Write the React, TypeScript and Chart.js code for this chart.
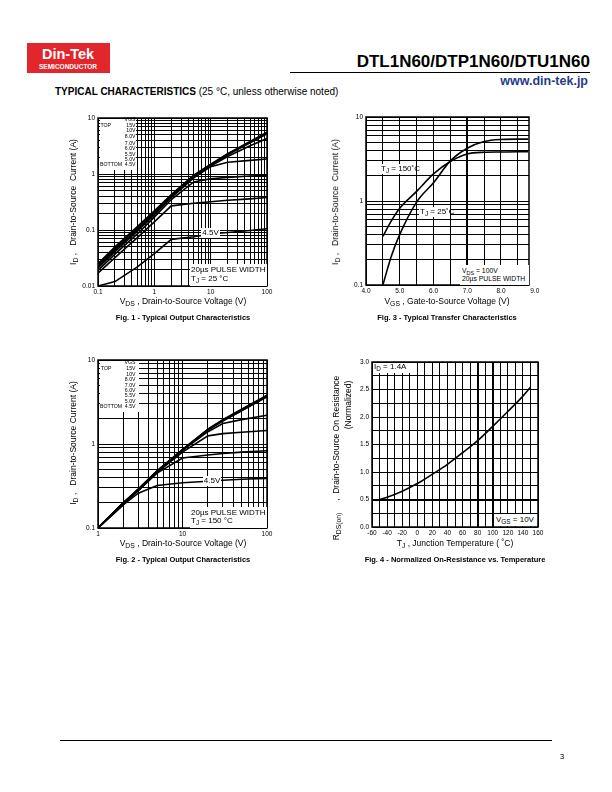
import React, { useEffect, useRef } from 'react';
import { Chart, registerables } from 'chart.js';
Chart.register(...registerables);

const FONT = '"Liberation Sans", Arial, Helvetica, sans-serif';

// ---------- Fig. 1 : output characteristics, TJ = 25 °C ----------
const fig1Vds = [0.1, 0.2, 0.5, 1, 2, 5, 10, 20, 50, 100];
const fig1Vgs15 = [0.025, 0.05, 0.115, 0.22, 0.43, 0.95, 1.5, 2.3, 3.8, 5.6];
const fig1Vgs10 = [0.024, 0.048, 0.11, 0.21, 0.42, 0.93, 1.45, 2.25, 3.7, 5.4];
const fig1Vgs8 = [0.023, 0.046, 0.105, 0.2, 0.41, 0.9, 1.42, 2.2, 3.6, 5.2];
const fig1Vgs7 = [0.022, 0.044, 0.1, 0.195, 0.4, 0.88, 1.38, 2.05, 3.2, 4.3];
const fig1Vgs6 = [0.021, 0.041, 0.095, 0.185, 0.38, 0.85, 1.35, 1.62, 1.75, 1.85];
const fig1Vgs55 = [0.019, 0.037, 0.085, 0.17, 0.35, 0.72, 0.82, 0.87, 0.92, 0.95];
const fig1Vgs5 = [0.017, 0.032, 0.073, 0.14, 0.27, 0.3, 0.32, 0.34, 0.36, 0.38];
const fig1Vgs45 = [0.01, 0.012, 0.022, 0.038, 0.068, 0.076, 0.085, 0.09, 0.098, 0.105];
const fig1XTicks = [0.1, 1, 10, 100];
const fig1XLabels = ['0.1', '1', '10', '100'];
const fig1YTicks = [0.01, 0.1, 1, 10];
const fig1YLabels = ['0.01', '0.1', '1', '10'];

// ---------- Fig. 2 : output characteristics, TJ = 150 °C ----------
const fig2Vds = [1, 2, 3, 5, 10, 20, 30, 50, 100];
const fig2Vgs15 = [0.1, 0.2, 0.29, 0.48, 0.86, 1.5, 1.95, 2.6, 3.8];
const fig2Vgs10 = [0.1, 0.2, 0.29, 0.48, 0.86, 1.49, 1.93, 2.55, 3.75];
const fig2Vgs8 = [0.1, 0.2, 0.29, 0.47, 0.85, 1.48, 1.9, 2.5, 3.7];
const fig2Vgs7 = [0.1, 0.2, 0.28, 0.47, 0.85, 1.47, 1.88, 2.48, 3.65];
const fig2Vgs6 = [0.1, 0.2, 0.28, 0.47, 0.84, 1.4, 1.75, 1.95, 2.2];
const fig2Vgs55 = [0.1, 0.2, 0.28, 0.46, 0.8, 1.25, 1.33, 1.38, 1.45];
const fig2Vgs5 = [0.1, 0.19, 0.28, 0.45, 0.68, 0.74, 0.77, 0.8, 0.83];
const fig2Vgs45 = [0.1, 0.19, 0.26, 0.32, 0.345, 0.36, 0.37, 0.38, 0.39];
const fig2XTicks = [1, 10, 100];
const fig2XLabels = ['1', '10', '100'];
const fig2YTicks = [0.1, 1, 10];
const fig2YLabels = ['0.1', '1', '10'];

// ---------- Fig. 3 : transfer characteristics ----------
const fig3Vgs = [4.5, 4.75, 5.0, 5.5, 6.0, 6.5, 7.0, 7.5, 8.0, 8.5, 8.8];
const fig3Tj25 = [0.1, 0.22, 0.4, 0.97, 1.65, 3.0, 4.25, 5.1, 5.4, 5.45, 5.45];
const fig3Tj150 = [0.38, 0.58, 0.82, 1.3, 2.1, 2.95, 3.62, 3.8, 3.83, 3.85, 3.85];
const fig3XGrid = [4.0, 4.5, 5.0, 5.5, 6.0, 6.5, 7.0, 7.5, 8.0, 8.5, 9.0];
const fig3XTicks = [4, 5, 6, 7, 8, 9];
const fig3XLabels = ['4.0', '5.0', '6.0', '7.0', '8.0', '9.0'];
const fig3YTicks = [0.1, 1, 10];
const fig3YLabels = ['0.1', '1', '10'];

// ---------- Fig. 4 : normalized on-resistance ----------
const fig4Tj = [-55, -40, -20, 0, 20, 40, 60, 80, 100, 120, 140, 150];
const fig4Rds = [0.48, 0.54, 0.65, 0.79, 0.96, 1.14, 1.35, 1.57, 1.83, 2.1, 2.38, 2.54];
const fig4XTicks = [-60, -40, -20, 0, 20, 40, 60, 80, 100, 120, 140, 160];
const fig4XLabels = ['-60', '-40', '-20', '0', '20', '40', '60', '80', '100', '120', '140', '160'];
const fig4YTicks = [0, 0.5, 1, 1.5, 2, 2.5, 3];
const fig4YLabels = ['0.0', '0.5', '1.0', '1.5', '2.0', '2.5', '3.0'];

// ---------- helpers ----------
function logGrid(min: number, max: number): number[] {
  const out: number[] = [];
  const e0 = Math.round(Math.log10(min));
  const e1 = Math.round(Math.log10(max));
  for (let e = e0; e < e1; e++) {
    for (let s = 1; s < 10; s++) out.push(Number((s * Math.pow(10, e)).toPrecision(6)));
  }
  out.push(max);
  return out;
}

function labelFrom(vals: number[], labels: string[]) {
  return (v: any) => {
    const n = Number(v);
    const i = vals.findIndex((m) => Math.abs(m - n) <= 1e-9 * Math.max(1, Math.abs(m)));
    return i >= 0 ? labels[i] : '';
  };
}

const tickFont = { family: FONT, size: 6.5 };

function logScale(pos: string, min: number, max: number, size: number, tv: number[], tl: string[], pad: number) {
  return {
    type: 'logarithmic',
    position: pos,
    min,
    max,
    afterBuildTicks: (s: any) => {
      s.ticks = logGrid(min, max).map((value) => ({ value }));
    },
    afterFit: (s: any) => {
      if (pos === 'bottom') s.height = size;
      else s.width = size;
    },
    ticks: { autoSkip: false, maxRotation: 0, minRotation: 0, padding: pad, color: '#000', font: tickFont, callback: labelFrom(tv, tl) },
    grid: { color: '#000', lineWidth: 1, drawTicks: false },
    border: { display: false },
  };
}

function linScale(pos: string, min: number, max: number, size: number, grid: number[], tv: number[], tl: string[], pad: number, thick: number[]) {
  return {
    type: 'linear',
    position: pos,
    min,
    max,
    afterBuildTicks: (s: any) => {
      s.ticks = grid.map((value) => ({ value }));
    },
    afterFit: (s: any) => {
      if (pos === 'bottom') s.height = size;
      else s.width = size;
    },
    ticks: { autoSkip: false, maxRotation: 0, minRotation: 0, padding: pad, color: '#000', font: tickFont, callback: labelFrom(tv, tl) },
    grid: {
      drawTicks: false,
      color: (c: any) => (c.tick && (c.tick.value > max + 1e-9 || c.tick.value < min - 1e-9) ? 'rgba(0,0,0,0)' : '#000'),
      lineWidth: (c: any) => (c.tick && thick.some((t) => Math.abs(t - c.tick.value) < 1e-9) ? 2 : 1),
    },
    border: { display: false },
  };
}

function range(a: number, b: number, step: number): number[] {
  const out: number[] = [];
  for (let v = a; v <= b + 1e-9; v += step) out.push(Number(v.toFixed(6)));
  return out;
}

const framePlugin = {
  id: 'frame',
  afterDraw(chart: any) {
    const { ctx, chartArea: a } = chart;
    ctx.save();
    ctx.strokeStyle = '#000';
    ctx.lineWidth = 1.5;
    ctx.strokeRect(a.left, a.top, a.right - a.left, a.bottom - a.top);
    ctx.restore();
  },
};

function series(xs: number[], ys: number[], smooth: boolean, width = 1.6) {
  return {
    data: xs.map((x, i) => ({ x, y: ys[i] })),
    borderColor: '#000',
    borderWidth: width,
    pointRadius: 0,
    fill: false,
    tension: 0,
    cubicInterpolationMode: smooth ? 'monotone' : 'default',
  };
}

function baseConfig(datasets: any[], x: any, y: any, padTop: number, padRight: number) {
  return {
    type: 'line',
    data: { datasets },
    options: {
      animation: false,
      responsive: false,
      devicePixelRatio: 1,
      events: [],
      parsing: true,
      layout: { padding: { top: padTop, right: padRight, left: 0, bottom: 0 } },
      plugins: { legend: { display: false }, tooltip: { enabled: false } },
      scales: { x, y },
    },
    plugins: [framePlugin],
  };
}

function ChartBox(props: { left: number; top: number; width: number; height: number; build: () => any }) {
  const ref = useRef<HTMLCanvasElement | null>(null);
  useEffect(() => {
    const chart = new Chart(ref.current as any, props.build());
    return () => chart.destroy();
  }, []);
  return (
    <canvas
      ref={ref}
      width={props.width}
      height={props.height}
      style={{ position: 'absolute', left: props.left, top: props.top, width: props.width, height: props.height }}
    />
  );
}

function T(p: { x: number; y: number; s?: number; b?: boolean; a?: 'l' | 'c' | 'r'; rot?: boolean; color?: string; children: any }) {
  const tx = p.a === 'c' ? '-50%' : p.a === 'r' ? '-100%' : '0';
  const transform = p.rot ? 'translate(-50%,-50%) rotate(-90deg)' : `translate(${tx},-50%)`;
  return (
    <div
      style={{
        position: 'absolute',
        left: p.x,
        top: p.y,
        transform,
        fontSize: p.s ?? 8,
        fontWeight: p.b ? 'bold' : 'normal',
        whiteSpace: 'pre',
        lineHeight: 1.15,
        color: p.color ?? '#000',
        fontFamily: FONT,
      }}
    >
      {p.children}
    </div>
  );
}

function Sub(p: { children: any }) {
  return <span style={{ fontSize: '0.8em', verticalAlign: '-0.3em', lineHeight: 0 }}>{p.children}</span>;
}

function Box(p: { x: number; y: number; w: number; h: number; bg?: string }) {
  return <div style={{ position: 'absolute', left: p.x, top: p.y, width: p.w, height: p.h, background: p.bg ?? '#fff' }} />;
}

const buildFig1 = () =>
  baseConfig(
    [fig1Vgs15, fig1Vgs10, fig1Vgs8, fig1Vgs7, fig1Vgs6, fig1Vgs55, fig1Vgs5, fig1Vgs45].map((ys) => series(fig1Vds, ys, false)),
    logScale('bottom', 0.1, 100, 14, fig1XTicks, fig1XLabels, 2),
    logScale('left', 0.01, 10, 43, fig1YTicks, fig1YLabels, 3),
    8,
    13
  );

const buildFig2 = () =>
  baseConfig(
    [fig2Vgs15, fig2Vgs10, fig2Vgs8, fig2Vgs7, fig2Vgs6, fig2Vgs55, fig2Vgs5, fig2Vgs45].map((ys) => series(fig2Vds, ys, false)),
    logScale('bottom', 1, 100, 14, fig2XTicks, fig2XLabels, 2),
    logScale('left', 0.1, 10, 43, fig2YTicks, fig2YLabels, 3),
    8,
    13
  );

const buildFig3 = () =>
  baseConfig(
    [series(fig3Vgs, fig3Tj25, true), series(fig3Vgs, fig3Tj150, true)],
    linScale('bottom', 4, 8.83, 14, fig3XGrid, fig3XTicks, fig3XLabels, 2, [7]),
    logScale('left', 0.1, 10, 48, fig3YTicks, fig3YLabels, 3),
    8,
    19
  );

const buildFig4 = () =>
  baseConfig(
    [series(fig4Tj, fig4Rds, true)],
    linScale('bottom', -60, 160, 14, range(-60, 160, 10), fig4XTicks, fig4XLabels, 2, [80, 100]),
    linScale('left', 0, 3, 47, range(0, 3, 0.25), fig4YTicks, fig4YLabels, 3, [0.5]),
    8,
    17
  );

export default function App() {
  const leg = 5.2;
  return (
    <div style={{ position: 'absolute', left: 0, top: 0, width: 612, height: 792, background: '#fff', overflow: 'hidden', fontFamily: FONT }}>
      {/* header */}
      <Box x={27} y={43} w={83} h={30} bg="#e3262b" />
      <T x={68} y={54} s={14.5} b a="c" color="#fff">Din-Tek</T>
      <T x={68} y={66.5} s={6.5} b a="c" color="#fff">SEMICONDUCTOR</T>
      <T x={590} y={62} s={17} b a="r">DTL1N60/DTP1N60/DTU1N60</T>
      <Box x={290} y={72} w={300} h={1} bg="#000" />
      <T x={588} y={81} s={12.5} b a="r" color="#1f3c8c">www.din-tek.jp</T>
      <T x={55} y={92} s={10}>
        <b>TYPICAL CHARACTERISTICS</b> (25 °C, unless otherwise noted)
      </T>

      {/* Fig 1 */}
      <ChartBox left={55} top={110} width={225} height={190} build={buildFig1} />
      <Box x={99.5} y={119} w={36.5} h={51} />
      <T x={135.5} y={119.5} s={leg} a="r">VGS</T>
      <T x={135.5} y={125.5} s={leg} a="r">15V</T>
      <T x={135.5} y={131} s={leg} a="r">10V</T>
      <T x={135.5} y={136.5} s={leg} a="r">8.0V</T>
      <T x={135.5} y={144} s={leg} a="r">7.0V</T>
      <T x={135.5} y={149} s={leg} a="r">6.0V</T>
      <T x={135.5} y={154.5} s={leg} a="r">5.5V</T>
      <T x={135.5} y={159.5} s={leg} a="r">5.0V</T>
      <T x={135.5} y={164.5} s={leg} a="r">4.5V</T>
      <T x={100.5} y={125.5} s={leg}>TOP</T>
      <T x={100} y={164.5} s={leg}>BOTTOM</T>
      <Box x={201} y={228} w={19} h={10} />
      <T x={210.5} y={233} s={8} a="c">4.5V</T>
      <Box x={190} y={264} w={76.5} h={21.5} />
      <T x={191} y={270} s={8}>20µs PULSE WIDTH</T>
      <T x={191} y={278.5} s={8}>
        T<Sub>J</Sub> = 25 °C
      </T>
      <T x={74} y={202} s={8.5} rot>
        I<Sub>D</Sub>{' ,   Drain-to-Source  Current (A)'}
      </T>
      <T x={183} y={302} s={8.5} a="c">
        V<Sub>DS</Sub>{' , Drain-to-Source Voltage (V)'}
      </T>
      <T x={183} y={318} s={7.5} b a="c">Fig. 1 - Typical Output Characteristics</T>

      {/* Fig 3 */}
      <ChartBox left={318} top={109} width={230} height={190} build={buildFig3} />
      <Box x={380} y={164} w={34} h={10} />
      <T x={381} y={169} s={8}>
        T<Sub>J</Sub> = 150˚C
      </T>
      <Box x={419} y={207} w={31} h={10} />
      <T x={420} y={212} s={8}>
        T<Sub>J</Sub> = 25˚C
      </T>
      <Box x={460} y={265} w={68.5} h={19.5} />
      <T x={462} y={271} s={6.8}>
        V<Sub>DS</Sub> = 100V
      </T>
      <T x={462} y={278.5} s={6.8}>20µs PULSE WIDTH</T>
      <T x={336} y={202} s={8.5} rot>
        I<Sub>D</Sub>{' ,   Drain-to-Source  Current (A)'}
      </T>
      <T x={447} y={302} s={8.5} a="c">
        V<Sub>GS</Sub>{' , Gate-to-Source Voltage (V)'}
      </T>
      <T x={447} y={318} s={7.5} b a="c">Fig. 3 - Typical Transfer Characteristics</T>

      {/* Fig 2 */}
      <ChartBox left={55} top={352} width={225} height={190} build={buildFig2} />
      <Box x={99.5} y={361} w={39} h={51} />
      <T x={135.5} y={362.5} s={leg} a="r">VGS</T>
      <T x={135.5} y={369} s={leg} a="r">15V</T>
      <T x={135.5} y={374.5} s={leg} a="r">10V</T>
      <T x={135.5} y={379.5} s={leg} a="r">8.0V</T>
      <T x={135.5} y={385.5} s={leg} a="r">7.0V</T>
      <T x={135.5} y={390.5} s={leg} a="r">6.0V</T>
      <T x={135.5} y={396} s={leg} a="r">5.5V</T>
      <T x={135.5} y={401.5} s={leg} a="r">5.0V</T>
      <T x={135.5} y={406.5} s={leg} a="r">4.5V</T>
      <T x={101} y={369} s={leg}>TOP</T>
      <T x={100} y={406.5} s={leg}>BOTTOM</T>
      <Box x={203} y={476} w={18} h={10} />
      <T x={212} y={481} s={8} a="c">4.5V</T>
      <Box x={190} y={506.5} w={76.5} h={21} />
      <T x={191} y={512.5} s={8}>20µs PULSE WIDTH</T>
      <T x={191} y={521} s={8}>
        T<Sub>J</Sub> = 150 °C
      </T>
      <T x={74} y={443} s={8.5} rot>
        I<Sub>D</Sub>{' ,   Drain-to-Source Current (A)'}
      </T>
      <T x={183} y={544} s={8.5} a="c">
        V<Sub>DS</Sub>{' , Drain-to-Source Voltage (V)'}
      </T>
      <T x={183} y={560} s={7.5} b a="c">Fig. 2 - Typical Output Characteristics</T>

      {/* Fig 4 */}
      <ChartBox left={325} top={354} width={230} height={187} build={buildFig4} />
      <Box x={372.5} y={362.5} w={38} h={10} />
      <T x={374} y={367} s={8}>
        I<Sub>D</Sub> = 1.4A
      </T>
      <Box x={494} y={513.5} w={43} h={12.5} />
      <T x={496} y={520} s={8}>
        V<Sub>GS</Sub> = 10V
      </T>
      <T x={337} y={458} s={8.5} rot>
        R<Sub>DS(on)</Sub>{'     ,  Drain-to-Source On Resistance'}
      </T>
      <T x={349} y={405} s={8.5} rot>(Normalized)</T>
      <T x={455} y={544} s={8.5} a="c">
        T<Sub>J</Sub>{' , Junction Temperature ( ˚C)'}
      </T>
      <T x={455} y={560} s={7.5} b a="c">Fig. 4 - Normalized On-Resistance vs. Temperature</T>

      {/* footer */}
      <Box x={60} y={740} w={492} h={1} bg="#000" />
      <T x={562} y={757} s={8} a="c">3</T>
    </div>
  );
}
